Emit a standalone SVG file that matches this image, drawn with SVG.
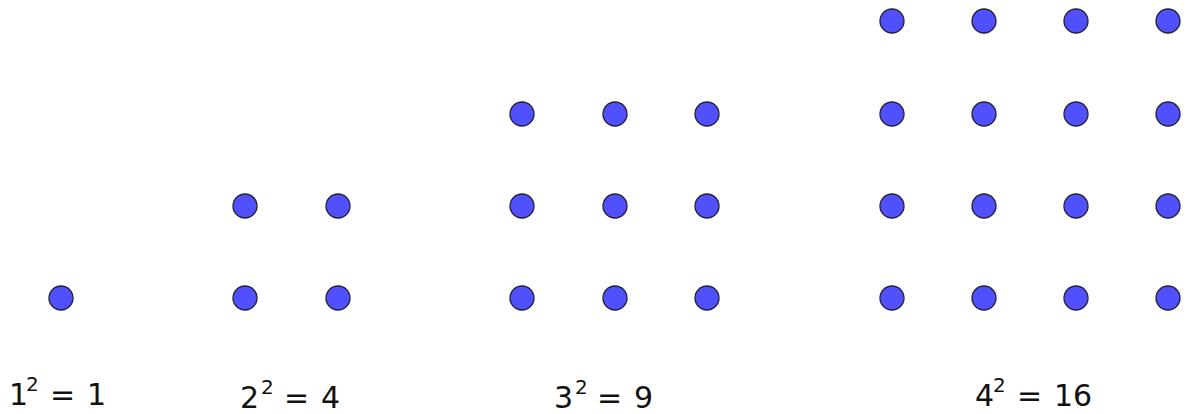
<svg xmlns="http://www.w3.org/2000/svg" width="1186" height="414" viewBox="0 0 1186 414">
<style>
.dot{fill:#5050ff;stroke:#222233;stroke-width:1.3}
.lbl{font-family:"DejaVu Sans","Liberation Sans",sans-serif;font-size:30px;fill:#111}
.sup{font-size:20px}
</style>
<rect width="1186" height="414" fill="#fff"/>
<g id="square1">
<circle class="dot" cx="61" cy="298" r="12"/>
<text class="lbl" y="405"><tspan x="9">1</tspan><tspan class="sup" x="26" dy="-14">2</tspan><tspan x="50" dy="14">=</tspan><tspan x="87">1</tspan></text>
</g>
<g id="square4">
<circle class="dot" cx="245" cy="206" r="12"/>
<circle class="dot" cx="338" cy="206" r="12"/>
<circle class="dot" cx="245" cy="298" r="12"/>
<circle class="dot" cx="338" cy="298" r="12"/>
<text class="lbl" y="408"><tspan x="240">2</tspan><tspan class="sup" x="261" dy="-14">2</tspan><tspan x="284" dy="14">=</tspan><tspan x="321">4</tspan></text>
</g>
<g id="square9">
<circle class="dot" cx="522" cy="114" r="12"/>
<circle class="dot" cx="615" cy="114" r="12"/>
<circle class="dot" cx="707" cy="114" r="12"/>
<circle class="dot" cx="522" cy="206" r="12"/>
<circle class="dot" cx="615" cy="206" r="12"/>
<circle class="dot" cx="707" cy="206" r="12"/>
<circle class="dot" cx="522" cy="298" r="12"/>
<circle class="dot" cx="615" cy="298" r="12"/>
<circle class="dot" cx="707" cy="298" r="12"/>
<text class="lbl" y="408"><tspan x="554">3</tspan><tspan class="sup" x="575" dy="-14">2</tspan><tspan x="597" dy="14">=</tspan><tspan x="634">9</tspan></text>
</g>
<g id="square16">
<circle class="dot" cx="892" cy="21" r="12"/>
<circle class="dot" cx="984" cy="21" r="12"/>
<circle class="dot" cx="1076" cy="21" r="12"/>
<circle class="dot" cx="1168" cy="21" r="12"/>
<circle class="dot" cx="892" cy="114" r="12"/>
<circle class="dot" cx="984" cy="114" r="12"/>
<circle class="dot" cx="1076" cy="114" r="12"/>
<circle class="dot" cx="1168" cy="114" r="12"/>
<circle class="dot" cx="892" cy="206" r="12"/>
<circle class="dot" cx="984" cy="206" r="12"/>
<circle class="dot" cx="1076" cy="206" r="12"/>
<circle class="dot" cx="1168" cy="206" r="12"/>
<circle class="dot" cx="892" cy="298" r="12"/>
<circle class="dot" cx="984" cy="298" r="12"/>
<circle class="dot" cx="1076" cy="298" r="12"/>
<circle class="dot" cx="1168" cy="298" r="12"/>
<text class="lbl" y="406"><tspan x="975">4</tspan><tspan class="sup" x="993" dy="-14">2</tspan><tspan x="1017" dy="14">=</tspan><tspan x="1054">16</tspan></text>
</g>
<g id="connectors"/>
</svg>
